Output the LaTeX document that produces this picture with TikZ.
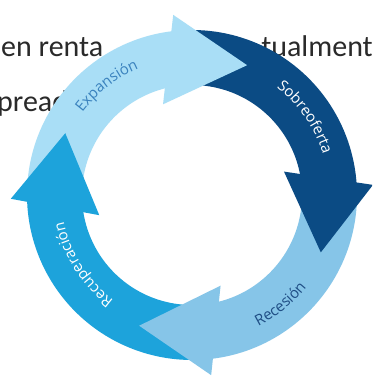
\documentclass[tikz,border=0pt]{standalone}
\usepackage{fontspec}
\setmainfont{Open Sans}
\newfontfamily\bgfont{Carlito}
\usetikzlibrary{calc,decorations.text}
\definecolor{cExp}{HTML}{A9DEF6}
\definecolor{cSob}{HTML}{0B4B84}
\definecolor{cRes}{HTML}{86C5E8}
\definecolor{cRec}{HTML}{1DA3DB}
\definecolor{tExp}{HTML}{3A82BE}
\definecolor{tRes}{HTML}{1F4E85}
\definecolor{bgtext}{HTML}{2A2A2A}
\newcommand\ringbody[3]{% colour, start angle, end angle
  \fill[#1] ($(C)+(#2:165)$) arc[start angle=#2,end angle=#3,radius=165]
    -- ($(C)+(#3:110)$) arc[start angle=#3,end angle=#2,radius=110] -- cycle;}
\newcommand\ringhead[3]{% colour, tip angle, base angle
  \pgfmathsetmacro\hph{(#2+#3)/2}
  \fill[#1] ($(C)+(#3:137.5)+(\hph:45)$) -- ($(C)+(#2:141)$)
    -- ($(C)+(#3:137.5)-(\hph:45)$) -- cycle;}
\tikzset{bgword/.style={font=\bgfont\fontsize{30}{30}\selectfont,text=bgtext,inner sep=0pt}}
\begin{document}
\begin{tikzpicture}[x=1pt,y=1pt]
\clip (0,0) rectangle (372,377);
\fill[white] (0,0) rectangle (372,377);
\coordinate (C) at (192,182);
% background words
\node[bgword,anchor=base west] (w1) at (1,320) {en renta};
\node[bgword,anchor=base east] (w2) at (373,320) {tualment};
\node[bgword,anchor=base west] (w3) at (-3,265) {pread};
% bodies
\ringbody{cExp}{180}{94}
\ringbody{cSob}{93}{1}
\ringbody{cRes}{2}{-86}
\ringbody{cRec}{274}{179}
% heads
\ringhead{cExp}{67}{100}
\ringhead{cSob}{-24}{7}
\ringhead{cRes}{-112}{-80}
\ringhead{cRec}{154}{185}
% labels
\path[decorate,decoration={text along path,text align=center,
  text={|\fontsize{15}{15}\selectfont\color{tExp}|Expansión}}]
  ($(C)+(168:137)$) arc[start angle=168,end angle=88,radius=137];
\path[decorate,decoration={text along path,text align=center,
  text={|\fontsize{15}{15}\selectfont\color{white}|Sobreoferta}}]
  ($(C)+(75:137)$) arc[start angle=75,end angle=-6,radius=137];
\path[decorate,decoration={text along path,text align=center,
  text={|\fontsize{15}{15}\selectfont\color{tRes}|Recesión}}]
  ($(C)+(-91:147)$) arc[start angle=-91,end angle=-11,radius=147];
\path[decorate,decoration={text along path,text align=center,
  text={|\fontsize{15}{15}\selectfont\color{white}|Recuperación}}]
  ($(C)+(252:131)$) arc[start angle=252,end angle=173,radius=131];
\end{tikzpicture}
\end{document}
